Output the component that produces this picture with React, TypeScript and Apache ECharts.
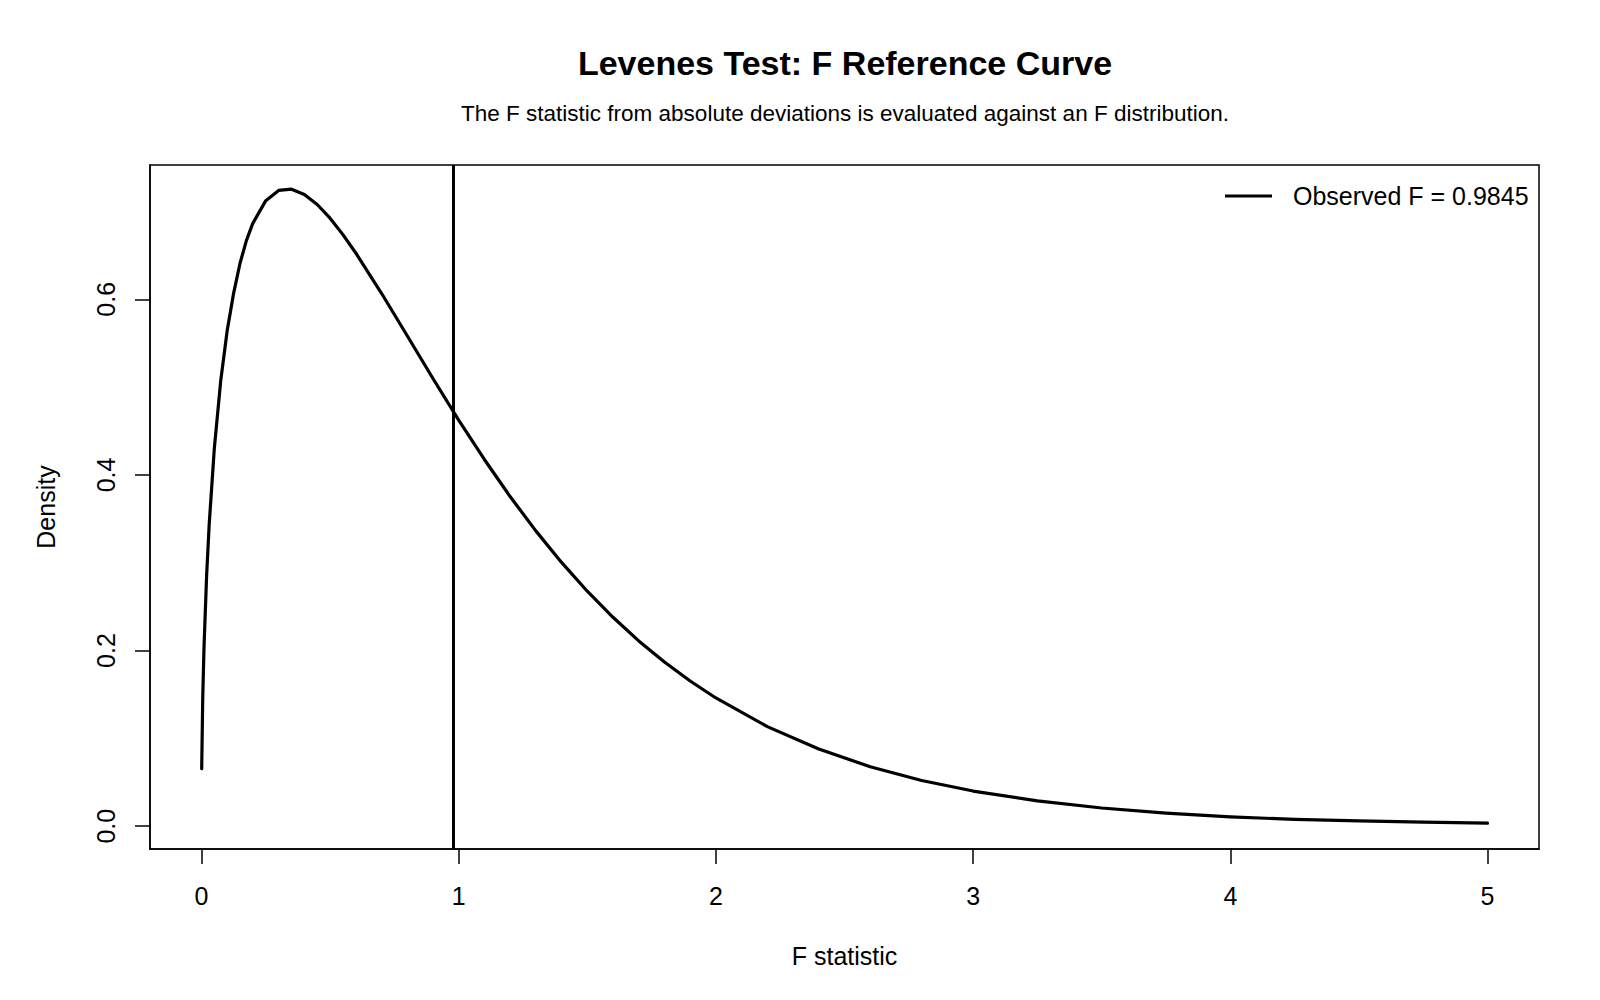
import React, { useRef, useEffect } from 'react';
import * as echarts from 'echarts';

// F statistic grid and density
const fValues = [
  0.001, 0.005, 0.01, 0.02, 0.03, 0.05, 0.075, 0.1, 0.125, 0.15, 0.175, 0.2, 0.25, 0.3, 0.35,
  0.4, 0.45, 0.5, 0.55, 0.6, 0.7, 0.8, 0.9, 1.0, 1.1, 1.2, 1.3, 1.4, 1.5, 1.6, 1.7, 1.8, 1.9,
  2.0, 2.2, 2.4, 2.6, 2.8, 3.0, 3.25, 3.5, 3.75, 4.0, 4.25, 4.5, 4.75, 5.0,
];
const densityValues = [
  0.0655, 0.1455, 0.2042, 0.2845, 0.3433, 0.43, 0.5074, 0.5642, 0.6068, 0.6411, 0.6671, 0.6868,
  0.7124, 0.724, 0.7255, 0.7195, 0.708, 0.6924, 0.6737, 0.6528, 0.6069, 0.5585, 0.5098, 0.4625,
  0.4176, 0.3754, 0.3363, 0.3004, 0.2676, 0.2379, 0.211, 0.1869, 0.1653, 0.146, 0.1134, 0.0878,
  0.0677, 0.052, 0.04, 0.0288, 0.0207, 0.0148, 0.0105, 0.0078, 0.006, 0.0046, 0.0034,
];
const xTicks = [0, 1, 2, 3, 4, 5];
const yTicks = [0, 0.2, 0.4, 0.6];
const observedF = 0.9845;

const titleText = 'Levenes Test: F Reference Curve';
const subtitleText = 'The F statistic from absolute deviations is evaluated against an F distribution.';
const legendText = `Observed F = ${observedF}`;

const FONT = "'Liberation Sans', Arial, sans-serif";

const App: React.FC = () => {
  const chartRef = useRef<HTMLDivElement>(null);

  useEffect(() => {
    if (!chartRef.current) return;
    document.body.style.margin = '0';
    const chart = echarts.init(chartRef.current, undefined, { renderer: 'svg' });

    const option: echarts.EChartsOption = {
      animation: false,
      backgroundColor: '#fff',
      textStyle: { fontFamily: FONT, color: '#000' },
      grid: {
        left: 150,
        right: 61,
        top: 165,
        bottom: 151,
        show: true,
        borderColor: '#000',
        borderWidth: 1.5,
        backgroundColor: 'transparent',
      },
      xAxis: {
        type: 'value',
        min: -0.2,
        max: 5.2,
        name: 'F statistic',
        nameLocation: 'middle',
        nameGap: 94,
        nameTextStyle: { fontSize: 25, color: '#000', fontFamily: FONT },
        splitLine: { show: false },
        axisLine: { show: true, onZero: false, lineStyle: { color: '#000', width: 1.5 } },
        axisTick: {
          show: true,
          customValues: xTicks,
          length: 15,
          lineStyle: { color: '#000', width: 1.5 },
        },
        axisLabel: {
          customValues: xTicks,
          fontSize: 25,
          color: '#000',
          fontFamily: FONT,
          margin: 34,
        },
      },
      yAxis: {
        type: 'value',
        min: -0.026,
        max: 0.753,
        name: 'Density',
        nameLocation: 'middle',
        nameRotate: 90,
        nameGap: 92,
        nameTextStyle: { fontSize: 25, color: '#000', fontFamily: FONT },
        splitLine: { show: false },
        axisLine: { show: true, onZero: false, lineStyle: { color: '#000', width: 1.5 } },
        axisTick: {
          show: true,
          customValues: yTicks,
          length: 15,
          lineStyle: { color: '#000', width: 1.5 },
        },
        axisLabel: {
          customValues: yTicks,
          rotate: 90,
          fontSize: 25,
          color: '#000',
          fontFamily: FONT,
          margin: 32,
          formatter: (v: number) => v.toFixed(1),
        },
      },
      graphic: [
        {
          type: 'text',
          x: 845,
          y: 63,
          style: {
            text: titleText,
            font: `bold 34px ${FONT}`,
            fill: '#000',
            textAlign: 'center',
            textVerticalAlign: 'middle',
          },
        },
        {
          type: 'text',
          x: 845,
          y: 113,
          style: {
            text: subtitleText,
            font: `22.5px ${FONT}`,
            fill: '#000',
            textAlign: 'center',
            textVerticalAlign: 'middle',
          },
        },
        {
          type: 'line',
          shape: { x1: 1225, y1: 196, x2: 1272, y2: 196 },
          style: { stroke: '#000', lineWidth: 3 },
        },
        {
          type: 'text',
          x: 1293,
          y: 196,
          style: {
            text: legendText,
            font: `25px ${FONT}`,
            fill: '#000',
            textAlign: 'left',
            textVerticalAlign: 'middle',
          },
        },
      ],
      series: [
        {
          name: 'F density',
          type: 'line',
          data: fValues.map((f, i) => [f, densityValues[i]]),
          showSymbol: false,
          smooth: false,
          lineStyle: { color: '#000', width: 3.2, join: 'round', cap: 'round' },
          itemStyle: { color: '#000' },
          markLine: {
            silent: true,
            symbol: ['none', 'none'],
            label: { show: false },
            lineStyle: { color: '#000', width: 3, type: 'solid' },
            data: [{ xAxis: observedF }],
          },
        },
      ],
    };

    chart.setOption(option);

    return () => {
      chart.dispose();
    };
  }, []);

  return <div ref={chartRef} style={{ width: 1600, height: 1000 }} />;
};

export default App;
